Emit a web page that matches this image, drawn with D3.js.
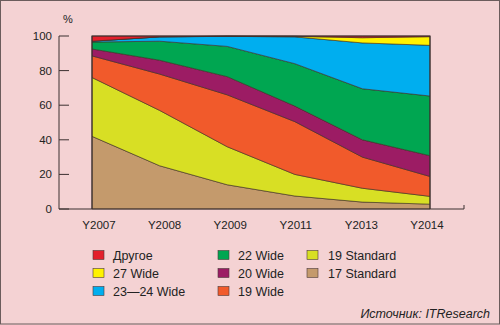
<!DOCTYPE html>
<html>
<head>
<meta charset="utf-8">
<script src="https://cdn.jsdelivr.net/npm/d3@7"></script>
<style>
  body { margin: 0; background: #f4d2d3; }
  svg { display: block; font-family: "Liberation Sans", Arial, sans-serif; }
</style>
</head>
<body>
<div id="chart"></div>
<script>
// categories / series (stack order bottom -> top)
const years = ["Y2007", "Y2008", "Y2009", "Y2011", "Y2013", "Y2014"];
const keys = ["17 Standard", "19 Standard", "19 Wide", "20 Wide", "22 Wide", "23—24 Wide", "27 Wide", "Другое"];

const std17 = [42, 25, 14, 7.5, 4, 2.8];
const std19 = [34, 32, 22, 12.5, 8, 4.5];
const wide19 = [12.5, 21, 30, 30.5, 18, 11.5];
const wide20 = [4, 8, 10.5, 9, 10, 12];
const wide22 = [4, 11, 17.5, 24.5, 29.5, 34.5];
const wide2324 = [0.5, 2.5, 5.8, 15.5, 26.5, 29.3];
const wide27 = [0, 0, 0.1, 0.3, 3, 5];
const other = [3, 0.5, 0.1, 0.2, 1, 0.4];

const yTicks = [0, 20, 40, 60, 80, 100];

const legendCols = [
  ["Другое", "27 Wide", "23—24 Wide"],
  ["22 Wide", "20 Wide", "19 Wide"],
  ["19 Standard", "17 Standard"]
];

const COLORS = {
  "17 Standard": "#c49a6c",
  "19 Standard": "#d8df24",
  "19 Wide": "#f15a2b",
  "20 Wide": "#9c1c64",
  "22 Wide": "#00a651",
  "23—24 Wide": "#00aeef",
  "27 Wide": "#fff200",
  "Другое": "#e31f2b"
};

const W = 500, H = 325;
const series = [std17, std19, wide19, wide20, wide22, wide2324, wide27, other];
const table = years.map((y, i) => {
  const row = { year: y };
  keys.forEach((k, j) => { row[k] = series[j][i]; });
  return row;
});

const svg = d3.select("#chart").append("svg")
  .attr("width", W).attr("height", H);

svg.append("rect")
  .attr("x", 0.5).attr("y", 0.5)
  .attr("width", W - 1).attr("height", H - 1.5)
  .attr("fill", "#f4d2d3")
  .attr("stroke", "#6b5c5c");

const x = d3.scalePoint().domain(years).range([92, 430]);
const xLab = d3.scalePoint().domain(years).range([99, 427]);
const y = d3.scaleLinear().domain([0, 100]).range([209, 36]);

const stack = d3.stack().keys(keys);
const layers = stack(table);

const area = d3.area()
  .x(d => x(d.data.year))
  .y0(d => y(d[0]))
  .y1(d => y(d[1]));

svg.append("g")
  .selectAll("path")
  .data(layers)
  .join("path")
  .attr("fill", d => COLORS[d.key])
  .attr("stroke", "#3a2e22")
  .attr("stroke-width", 0.6)
  .attr("stroke-linejoin", "round")
  .attr("d", area);

// plot frame
svg.append("path")
  .attr("d", `M${x("Y2007")},${y(0)}V${y(100)}H${x("Y2014")}V${y(0)}`)
  .attr("fill", "none")
  .attr("stroke", "#3b3030")
  .attr("stroke-width", 1.2);

// y axis
const yAxis = svg.append("g").attr("transform", "translate(59,0)");
yAxis.append("line")
  .attr("x1", 0).attr("x2", 0)
  .attr("y1", y(100)).attr("y2", y(0))
  .attr("stroke", "#3b3030");
yAxis.selectAll(".tick")
  .data(yTicks)
  .join("g")
  .each(function (d) {
    const g = d3.select(this);
    g.append("line")
      .attr("x1", 0).attr("x2", 10)
      .attr("y1", y(d)).attr("y2", y(d))
      .attr("stroke", "#3b3030");
    g.append("text")
      .attr("x", -7).attr("y", y(d) + 4)
      .attr("text-anchor", "end")
      .attr("font-size", 11.5)
      .attr("fill", "#222")
      .text(d);
  });
svg.append("text")
  .attr("x", 68).attr("y", 23)
  .attr("text-anchor", "middle")
  .attr("font-size", 11)
  .attr("fill", "#222")
  .text("%");

// x axis
svg.append("path")
  .attr("d", `M59,${y(0)}H464V${y(0) - 4}`)
  .attr("fill", "none")
  .attr("stroke", "#3b3030");
svg.append("g")
  .selectAll("text")
  .data(years)
  .join("text")
  .attr("x", d => xLab(d))
  .attr("y", 229)
  .attr("text-anchor", "middle")
  .attr("font-size", 11.5)
  .attr("fill", "#222")
  .text(d => d);

// legend
const colX = [[93, 113], [218, 238], [307, 328]];
legendCols.forEach((col, ci) => {
  col.forEach((k, ri) => {
    const cy = 255 + ri * 18;
    svg.append("rect")
      .attr("x", colX[ci][0]).attr("y", cy - 4.5)
      .attr("width", 11).attr("height", 9)
      .attr("fill", COLORS[k])
      .attr("stroke", "#4a3a3a")
      .attr("stroke-width", 0.6);
    svg.append("text")
      .attr("x", colX[ci][1]).attr("y", cy + 4.5)
      .attr("font-size", 12.5)
      .attr("fill", "#222")
      .text(k);
  });
});

svg.append("text")
  .attr("x", 490).attr("y", 318)
  .attr("text-anchor", "end")
  .attr("font-size", 12.5)
  .attr("font-style", "italic")
  .attr("fill", "#222")
  .text("Источник: ITResearch");
</script>
</body>
</html>
